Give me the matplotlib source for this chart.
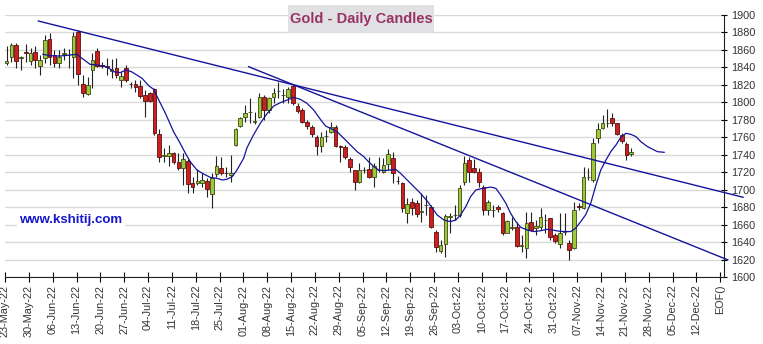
import numpy as np
import matplotlib.pyplot as plt
import matplotlib.patches as patches

plt.rcParams['font.family'] = ['Liberation Sans', 'DejaVu Sans']

# daily candles, 23-May-22 .. 22-Nov-22 (one per weekday)
opens = [1844.7, 1852.3, 1865.7, 1851.0, 1858.0, 1847.8, 1858.0, 1841.6, 1850.4, 1872.0,
         1854.0, 1844.7, 1855.0, 1854.0, 1852.3, 1880.0, 1821.0, 1809.6, 1837.0, 1859.0,
         1843.0, 1842.0, 1836.0, 1839.7, 1825.6, 1839.7, 1820.6, 1821.0, 1818.7, 1808.4,
         1810.3, 1815.0, 1763.7, 1739.0, 1738.6, 1741.6, 1731.3, 1724.5, 1733.2, 1708.0,
         1707.3, 1708.0, 1710.0, 1695.0, 1718.0, 1725.2, 1718.8, 1716.8, 1751.2, 1773.3,
         1782.8, 1789.0, 1777.8, 1782.8, 1806.5, 1791.2, 1805.7, 1813.0, 1808.4, 1805.7,
         1818.7, 1795.8, 1791.2, 1777.8, 1772.1, 1759.9, 1750.0, 1761.4, 1766.4, 1771.4,
         1749.3, 1749.3, 1734.8, 1722.5, 1708.4, 1722.5, 1723.3, 1714.1, 1722.5, 1720.6,
         1729.0, 1735.9, 1710.0, 1707.3, 1673.7, 1686.3, 1684.4, 1674.8, 1682.0, 1679.8,
         1651.9, 1630.2, 1637.8, 1669.0, 1671.0, 1671.0, 1709.2, 1734.0, 1725.2, 1720.6,
         1703.5, 1676.7, 1676.7, 1680.6, 1672.9, 1650.8, 1656.5, 1657.7, 1635.9, 1632.9,
         1662.6, 1655.7, 1657.7, 1665.3, 1667.2, 1648.1, 1637.8, 1652.0, 1638.6, 1632.9,
         1680.6, 1678.6, 1714.0, 1711.1, 1758.8, 1770.2, 1776.0, 1781.7, 1776.0, 1762.6,
         1752.3, 1740.9]
highs = [1864.9, 1868.3, 1867.6, 1853.0, 1866.4, 1862.0, 1864.5, 1854.0, 1877.0, 1879.0,
         1860.0, 1860.0, 1862.0, 1861.0, 1880.0, 1883.0, 1831.0, 1829.4, 1856.0, 1861.9,
         1845.8, 1850.4, 1850.0, 1850.4, 1835.0, 1842.8, 1823.7, 1825.6, 1825.6, 1814.0,
         1812.2, 1816.0, 1770.0, 1747.4, 1751.0, 1743.5, 1742.4, 1741.6, 1734.8, 1714.9,
         1723.3, 1718.7, 1713.0, 1718.7, 1738.6, 1737.8, 1726.4, 1739.7, 1770.3, 1783.6,
         1796.9, 1804.6, 1789.3, 1811.0, 1808.4, 1806.5, 1816.8, 1823.6, 1814.9, 1817.9,
         1819.8, 1798.8, 1793.1, 1779.7, 1774.0, 1762.6, 1766.4, 1768.4, 1777.9, 1774.1,
         1751.2, 1751.2, 1737.0, 1722.5, 1730.2, 1726.4, 1737.0, 1731.0, 1737.8, 1735.9,
         1746.2, 1743.5, 1715.7, 1709.2, 1690.1, 1690.1, 1688.2, 1695.8, 1694.0, 1682.5,
         1653.8, 1642.4, 1672.2, 1672.9, 1682.5, 1705.4, 1738.6, 1737.8, 1734.8, 1724.5,
         1705.4, 1688.2, 1682.5, 1682.5, 1674.8, 1665.3, 1669.1, 1663.4, 1648.1, 1674.8,
         1674.8, 1665.3, 1678.6, 1672.0, 1667.2, 1650.0, 1672.9, 1672.9, 1642.4, 1686.3,
         1685.2, 1726.4, 1724.5, 1758.8, 1776.0, 1785.5, 1792.0, 1787.4, 1776.7, 1764.5,
         1755.0, 1747.4]
lows = [1842.8, 1846.6, 1839.0, 1837.0, 1846.6, 1843.0, 1839.0, 1831.0, 1844.7, 1843.0,
        1841.0, 1839.0, 1848.0, 1839.0, 1827.5, 1820.0, 1806.5, 1808.4, 1816.0, 1840.8,
        1839.7, 1831.3, 1827.5, 1827.5, 1818.0, 1823.7, 1816.8, 1812.2, 1804.6, 1783.6,
        1800.0, 1762.6, 1732.0, 1732.0, 1727.0, 1729.4, 1722.5, 1705.4, 1695.8, 1696.6,
        1705.4, 1703.5, 1692.0, 1678.7, 1714.9, 1716.8, 1715.0, 1709.0, 1750.0, 1772.1,
        1777.8, 1776.0, 1775.0, 1781.6, 1779.7, 1787.4, 1799.6, 1804.6, 1799.6, 1799.6,
        1797.0, 1787.4, 1776.0, 1769.0, 1759.9, 1739.7, 1743.5, 1755.0, 1764.5, 1749.3,
        1732.0, 1734.8, 1720.6, 1699.6, 1707.3, 1718.7, 1713.0, 1702.7, 1720.6, 1718.7,
        1722.5, 1707.3, 1706.5, 1674.8, 1662.2, 1671.0, 1669.1, 1663.4, 1671.0, 1655.7,
        1629.0, 1627.9, 1623.3, 1650.0, 1665.3, 1669.1, 1705.4, 1709.2, 1718.7, 1703.5,
        1671.0, 1671.0, 1669.1, 1674.8, 1648.1, 1650.0, 1653.8, 1634.8, 1629.0, 1621.4,
        1653.1, 1648.1, 1653.8, 1650.0, 1642.4, 1638.6, 1632.9, 1648.0, 1619.5, 1632.1,
        1676.7, 1677.5, 1711.1, 1709.2, 1753.1, 1769.1, 1772.2, 1773.0, 1762.6, 1753.1,
        1734.0, 1738.6]
closes = [1847.4, 1865.7, 1847.4, 1851.5, 1856.0, 1856.1, 1849.0, 1848.5, 1871.4, 1852.3,
          1844.7, 1852.3, 1856.0, 1854.5, 1876.0, 1832.5, 1810.3, 1819.9, 1848.5, 1841.6,
          1842.0, 1841.0, 1838.0, 1831.3, 1830.5, 1825.6, 1820.5, 1818.0, 1807.6, 1801.5,
          1801.5, 1764.5, 1737.0, 1739.5, 1741.6, 1732.0, 1725.2, 1734.8, 1706.1, 1703.5,
          1710.0, 1711.0, 1700.8, 1713.0, 1727.1, 1719.5, 1718.7, 1719.5, 1769.1, 1781.6,
          1787.4, 1789.3, 1778.0, 1806.5, 1791.2, 1804.6, 1811.0, 1813.3, 1808.5, 1814.9,
          1798.8, 1790.4, 1777.0, 1772.9, 1763.7, 1750.0, 1760.6, 1761.5, 1771.4, 1750.0,
          1749.0, 1737.0, 1726.4, 1709.2, 1722.5, 1722.6, 1714.1, 1727.1, 1722.6, 1728.3,
          1740.9, 1718.7, 1709.9, 1678.6, 1683.6, 1678.6, 1671.8, 1674.9, 1682.5, 1656.9,
          1634.0, 1636.7, 1669.9, 1669.1, 1671.2, 1701.6, 1730.2, 1720.6, 1720.6, 1709.2,
          1676.7, 1686.3, 1676.8, 1677.5, 1650.0, 1664.1, 1656.6, 1635.5, 1636.0, 1661.5,
          1653.8, 1658.4, 1668.3, 1665.4, 1646.2, 1641.6, 1650.0, 1652.1, 1631.0, 1676.7,
          1680.5, 1714.9, 1714.5, 1753.1, 1769.1, 1776.0, 1776.1, 1776.7, 1763.8, 1756.1,
          1739.7, 1743.5]

# moving average overlay (position in trading days, price)
ma_pos = [7.6, 9.1, 11.2, 13.3, 14.7, 15.8, 17.5, 18.9, 21.0, 22.4, 23.8, 25.0, 26.2, 27.3,
          28.4, 29.8, 30.8, 31.9, 33.3, 35.0, 36.4, 37.5, 38.5, 39.9, 41.3, 42.7, 44.1, 45.2,
          46.2, 47.3, 48.3, 49.7, 50.4, 51.8, 53.2, 54.6, 56.0, 57.4, 58.8, 60.2, 61.6, 63.0,
          64.4, 65.9, 66.9, 67.9, 69.3, 70.7, 72.1, 73.5, 74.9, 75.9, 77.0, 78.0, 79.1, 80.5,
          81.6, 82.6, 84.0, 85.4, 86.8, 88.3, 89.3, 90.3, 91.7, 93.1, 94.2, 95.2, 96.3, 97.3,
          98.4, 99.4, 100.5, 101.5, 102.6, 103.6, 104.7, 105.7, 106.8, 107.8, 109.2, 110.6,
          112.0, 113.4, 114.5, 115.5, 116.9, 118.3, 119.3, 120.4, 121.4, 122.5, 123.5, 124.6,
          125.7, 126.7, 127.8, 128.8, 129.9, 130.9, 132.0, 133.0, 134.4, 136.5, 137.9]
ma_val = [1855.0, 1853.4, 1853.0, 1854.2, 1855.0, 1850.4, 1843.5, 1842.8, 1840.8, 1835.1,
          1834.0, 1837.0, 1835.0, 1831.3, 1827.5, 1819.0, 1815.0, 1802.7, 1787.4, 1766.4,
          1753.0, 1741.6, 1732.0, 1722.5, 1718.0, 1714.1, 1713.0, 1711.1, 1711.9, 1714.9,
          1722.5, 1735.9, 1748.0, 1763.0, 1776.0, 1787.0, 1795.8, 1799.6, 1802.6, 1805.7,
          1803.4, 1798.8, 1791.2, 1779.7, 1772.9, 1770.3, 1766.4, 1758.8, 1751.2, 1743.5,
          1737.8, 1732.0, 1726.4, 1722.5, 1721.8, 1722.5, 1723.3, 1718.7, 1711.1, 1703.5,
          1695.8, 1686.3, 1678.6, 1671.0, 1665.3, 1663.4, 1665.3, 1671.0, 1680.6, 1692.0,
          1699.6, 1701.0, 1702.0, 1703.0, 1701.5, 1693.9, 1684.4, 1672.9, 1663.4, 1656.9,
          1653.8, 1652.0, 1653.0, 1654.6, 1653.8, 1652.7, 1652.0, 1652.0, 1655.7, 1663.4,
          1671.0, 1684.4, 1703.5, 1722.5, 1734.0, 1743.5, 1751.2, 1760.0, 1764.5, 1763.4,
          1760.7, 1755.0, 1749.3, 1743.5, 1742.8]

# trend lines: (start day, start price) -> (end day, end price)
trend_upper = [(6.65, 1893.1), (154.45, 1691.3)]
trend_lower = [(50.75, 1840.8), (151.25, 1619.6)]

week_labels = ['23-May-22', '30-May-22', '06-Jun-22', '13-Jun-22', '20-Jun-22', '27-Jun-22',
               '04-Jul-22', '11-Jul-22', '18-Jul-22', '25-Jul-22', '01-Aug-22', '08-Aug-22',
               '15-Aug-22', '22-Aug-22', '29-Aug-22', '05-Sep-22', '12-Sep-22', '19-Sep-22',
               '26-Sep-22', '03-Oct-22', '10-Oct-22', '17-Oct-22', '24-Oct-22', '31-Oct-22',
               '07-Nov-22', '14-Nov-22', '21-Nov-22', '28-Nov-22', '05-Dec-22', '12-Dec-22',
               'EOF()']
price_ticks = list(range(1600, 1901, 20))

UP_FACE, UP_EDGE = '#9cc83a', '#3d4a12'
DN_FACE, DN_EDGE = '#cc1f1f', '#5a1010'
LINE_BLUE = '#14149a'
SHIFT = 0.35

o = np.array(opens)
h = np.array(highs)
l = np.array(lows)
c = np.array(closes)
xs = np.arange(len(o)) + SHIFT
up = c >= o

fig = plt.figure(figsize=(7.63, 3.44), dpi=100)
ax = fig.add_axes([5 / 763, 1 - 277 / 344, 719 / 763, 262 / 344])

ax.set_ylim(1600, 1900)
ax.set_xlim(0, 150.8)
ax.set_yticks(price_ticks)
ax.grid(axis='y', color='#d9d9d9', linewidth=1.0)
ax.set_axisbelow(True)

# wicks then bodies
ax.vlines(xs, l, h, color='#222222', linewidth=0.8, zorder=2)
body_lo = np.minimum(o, c)
body_h = np.maximum(np.abs(c - o), 0.5)
ax.bar(xs[up], body_h[up], bottom=body_lo[up], width=0.76,
       color=UP_FACE, edgecolor=UP_EDGE, linewidth=0.6, zorder=3)
ax.bar(xs[~up], body_h[~up], bottom=body_lo[~up], width=0.76,
       color=DN_FACE, edgecolor=DN_EDGE, linewidth=0.6, zorder=3)

ax.plot(np.array(ma_pos) + SHIFT, ma_val, color=LINE_BLUE, linewidth=0.9, zorder=4)

for tl in (trend_upper, trend_lower):
    (x0, y0), (x1, y1) = tl
    ax.plot([x0 + SHIFT, x1 + SHIFT], [y0, y1], color=LINE_BLUE, linewidth=1.0,
            zorder=4, clip_on=False)

ax.set_xticks(np.arange(len(week_labels)) * 5)
ax.set_xticklabels(week_labels, rotation=90, fontsize=7.8, color='#333333')
ax.tick_params(axis='x', direction='inout', length=7, width=0.8, pad=2)
ax.yaxis.tick_right()
ax.tick_params(axis='y', direction='inout', length=5, width=0.8, pad=3,
               labelsize=7.8, labelcolor='#333333')

for side in ('left', 'top'):
    ax.spines[side].set_visible(False)
ax.spines['right'].set_color('#222222')
ax.spines['bottom'].set_color('#222222')

# title box
fig.patches.append(patches.Rectangle((287.7 / 763, 1 - 33.3 / 344), 146.6 / 763, 28.3 / 344,
                                     transform=fig.transFigure, facecolor='#e1e0e3',
                                     edgecolor='none', zorder=5))
fig.text(361 / 763, 1 - 19.5 / 344, 'Gold - Daily Candles', ha='center', va='center',
         fontsize=10.5, fontweight='bold', color='#993366', zorder=6)

fig.text(19.3 / 763, 1 - 220 / 344, 'www.kshitij.com', ha='left', va='center',
         fontsize=9.5, fontweight='bold', color='#1515cc',
         bbox=dict(facecolor='white', edgecolor='none', pad=1.5))

fig.savefig('out.png', dpi=100)
